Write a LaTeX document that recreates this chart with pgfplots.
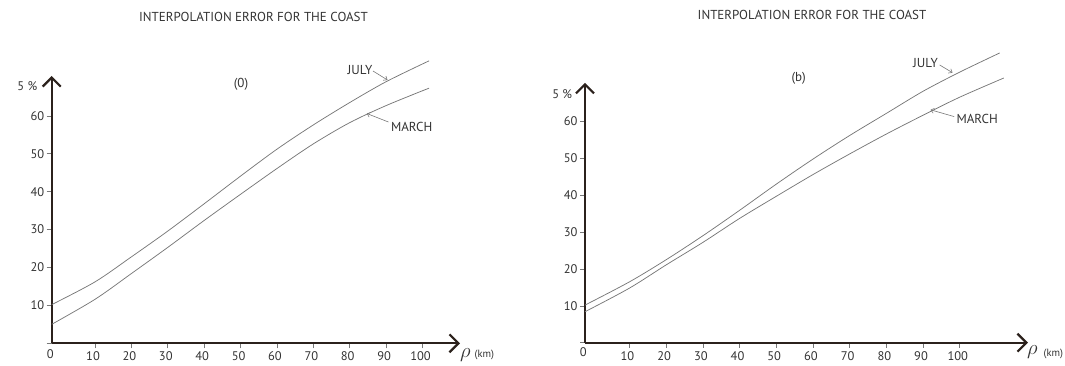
\documentclass[border=0pt]{standalone}
\usepackage{fontspec}
\setmainfont{PT Sans}
\usepackage{pgfplots}
\pgfplotsset{compat=1.18}
\usetikzlibrary{arrows.meta}
\definecolor{axc}{HTML}{2B211C}
\definecolor{crv}{HTML}{787878}
\definecolor{txt}{HTML}{333333}
\pgfplotsset{coast/.style={
  scale only axis, anchor=south west,
  axis lines=left,
  axis line style={axc, line width=2.2pt, -{Straight Barb[length=9pt,width=18pt]}},
  ymin=0,
  ytick={0,10,...,60}, yticklabels={,10,20,30,40,50,60},
  xtick={10,20,...,100},
  tick align=outside,
  major tick length=5pt,
  tick style={crv, line width=0.6pt},
  tick label style={font=\fontsize{12.5}{14}\selectfont, text=txt},
  xticklabel style={yshift=0pt, xshift=-2pt},
  yticklabel style={xshift=1pt},
  /pgf/number format/assume math mode=true,
  clip=false,
}}
\tikzset{crvline/.style={crv, line width=0.75pt, smooth, no marks}}
\begin{document}
\begin{tikzpicture}[x=1pt,y=1pt]
% ---------- left chart ----------
\begin{axis}[coast, at={(51.7pt,21.7pt)}, width=408.3pt, height=267.3pt,
  xmin=-1.9, xmax=110.3, ymax=70.5]
\addplot[crvline] coordinates {(-1.9,10.2) (10,16.2) (20,22.8) (30,29.6) (40,36.8) (50,44.1) (60,51.2) (70,57.6) (80,63.5) (90,69) (101.8,74.5)};
\addplot[crvline] coordinates {(-1.9,5) (10,11.6) (20,18.4) (30,25.3) (40,32.4) (50,39.3) (60,46.1) (70,52.6) (80,58.2) (90,62.7) (101.8,67.3)};
\end{axis}
% ---------- right chart ----------
\begin{axis}[coast, at={(585pt,22.3pt)}, width=443pt, height=259.9pt,
  xmin=-2.1, xmax=118.6, ymax=70.5]
\addplot[crvline] coordinates {(-2.1,10.2) (10,16.5) (20,22.5) (30,29) (40,35.9) (50,43) (60,49.8) (70,56.2) (80,62.2) (90,68.2) (100,73.4) (110.9,78.6)};
\addplot[crvline] coordinates {(-2.1,8.4) (10,14.8) (20,21.1) (30,27.2) (40,33.7) (50,39.7) (60,45.6) (70,51.2) (80,56.6) (90,61.7) (100,66.6) (112,71.8)};
\end{axis}
% ---------- texts ----------
\begin{scope}[every node/.style={text=txt, font=\fontsize{13}{15}\selectfont, inner sep=0pt}]
\node at (253.5,348) {INTERPOLATION ERROR FOR THE COAST};
\node at (812,349.8) {INTERPOLATION ERROR FOR THE COAST};
\node at (241,280.5) {(0)};
\node at (798.7,287) {(b)};
\node[anchor=east, font=\fontsize{12.5}{14}\selectfont] at (37.5,278.5) {5 \%};
\node[anchor=east, font=\fontsize{12.5}{14}\selectfont] at (572.3,270.7) {5 \%};
\node[font=\fontsize{12.5}{14}\selectfont] at (50.4,11) {0};
\node[font=\fontsize{12.5}{14}\selectfont] at (583.3,13) {0};
\node at (360,295) {JULY};
\node at (411.7,237.6) {MARCH};
\node at (925.5,302.1) {JULY};
\node at (977.2,246.4) {MARCH};
\node[anchor=base west] at (460,8) {\fontsize{22}{24}\selectfont$\rho$};
\node[anchor=base west] at (474.5,8) {\fontsize{10.5}{12}\selectfont(km)};
\node[anchor=base west] at (1027,11) {\fontsize{22}{24}\selectfont$\rho$};
\node[anchor=base west] at (1043.5,8.5) {\fontsize{10.5}{12}\selectfont(km)};
\end{scope}
\begin{scope}[crv, line width=0.6pt, -{Straight Barb[length=3pt,width=5pt]}]
\draw (373,294) -- (387.5,285);
\draw (388.4,243) -- (366.8,251.5);
\draw (939.7,300) -- (952.5,292.3);
\draw (954.2,248.4) -- (930.5,255.2);
\end{scope}
\pgfresetboundingbox
\path[use as bounding box] (0,0) rectangle (1065,365);
\end{tikzpicture}
\end{document}
